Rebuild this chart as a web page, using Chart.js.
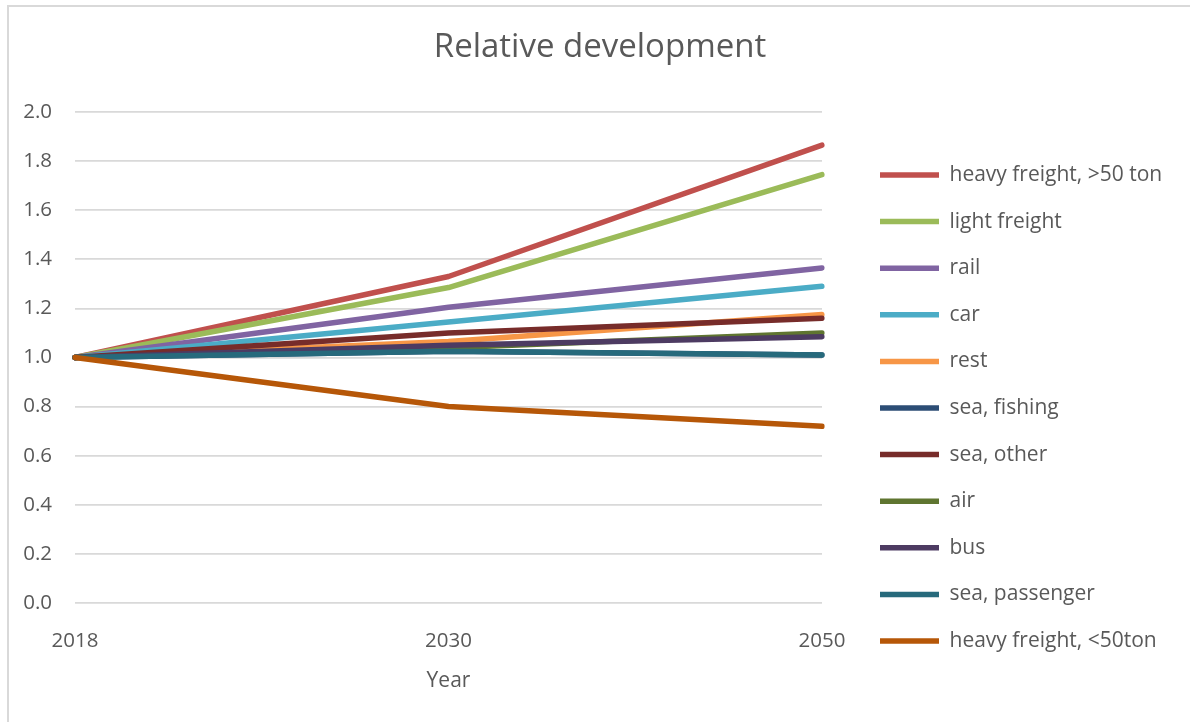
<!DOCTYPE html>
<html>
<head>
<meta charset="utf-8">
<script src="https://cdn.jsdelivr.net/npm/chart.js@4/dist/chart.umd.min.js"></script>
<style>
  html, body { margin: 0; padding: 0; background: #fff; }
  #wrap { position: relative; width: 1190px; height: 722px; overflow: hidden; }
  #frame { position: absolute; left: 7px; top: 5px; width: 1300px; height: 800px;
           border-left: 2px solid #d9d9d9; border-top: 2px solid #d9d9d9; box-sizing: border-box; }
  canvas { position: absolute; left: 0; top: 0; }
</style>
</head>
<body>
<div id="wrap">
  <div id="frame"></div>
  <canvas id="dev-chart" width="1190" height="722"></canvas>
</div>
<script>
var years = ['2018', '2030', '2050'];

var heavyOver50 = [1.00, 1.33, 1.865];
var lightFreight = [1.00, 1.285, 1.745];
var rail = [1.00, 1.205, 1.365];
var car = [1.00, 1.145, 1.29];
var rest = [1.00, 1.065, 1.175];
var seaFishing = [1.00, 1.025, 1.01];
var seaOther = [1.00, 1.10, 1.16];
var air = [1.00, 1.04, 1.10];
var bus = [1.00, 1.05, 1.085];
var seaPassenger = [1.00, 1.025, 1.01];
var heavyUnder50 = [1.00, 0.80, 0.72];

var series = [
    { label: 'heavy freight, >50 ton', data: heavyOver50, color: '#C0504D' },
    { label: 'light freight', data: lightFreight, color: '#9BBB59' },
    { label: 'rail', data: rail, color: '#8064A2' },
    { label: 'car', data: car, color: '#4BACC6' },
    { label: 'rest', data: rest, color: '#F79646' },
    { label: 'sea, fishing', data: seaFishing, color: '#2C4D75' },
    { label: 'sea, other', data: seaOther, color: '#772C2A' },
    { label: 'air', data: air, color: '#5F7530' },
    { label: 'bus', data: bus, color: '#4D3B62' },
    { label: 'sea, passenger', data: seaPassenger, color: '#276A7C' },
    { label: 'heavy freight, <50ton', data: heavyUnder50, color: '#B65708' }
];

var textColor = '#595959';
var fontFamily = '"Open Sans", "Liberation Sans", sans-serif';

// legend box spans from the plot's right edge to the canvas padding,
// entries are indented so there is an empty strip next to the plot
var legendWidth = 358;
var legendIndent = 32.4;

var legendStrip = {
    id: 'legendStrip',
    beforeLayout: function( chart ) {
        var lg = chart.legend;
        if ( !lg || lg._stripPatched ) {
            return;
        }
        lg._stripPatched = true;
        var fit = lg.fit;
        var draw = lg.draw;
        lg.fit = function() {
            fit.call( this );
            this.width = legendWidth;
        };
        lg.draw = function() {
            var left = this.left;
            this.left += legendIndent;
            draw.call( this );
            this.left = left;
        };
    }
};

// later series are painted over earlier ones
var datasets = series.map(function( s, i ) {
    return {
        label: s.label,
        data: s.data,
        borderColor: s.color,
        backgroundColor: s.color,
        borderWidth: 5.5,
        borderCapStyle: 'round',
        borderJoinStyle: 'round',
        pointRadius: 0,
        pointHoverRadius: 0,
        tension: 0,
        fill: false,
        order: series.length - i
    };
});

var ctx = document.getElementById( 'dev-chart' ).getContext( '2d' );
new Chart( ctx, {
    type: 'line',
    data: { labels: years, datasets: datasets },
    plugins: [ legendStrip ],
    options: {
        responsive: false,
        animation: false,
        layout: { padding: { left: 20, right: 10, top: 0, bottom: 28.4 } },
        plugins: {
            title: {
                display: true,
                text: 'Relative development',
                color: textColor,
                font: { family: fontFamily, size: 33, weight: 'normal' },
                padding: { top: 28.2, bottom: 44.2 }
            },
            legend: {
                position: 'right',
                align: 'start',
                // empty title only pushes the entries down
                title: { display: true, text: '', font: { size: 10 }, padding: { top: 126.9, bottom: 0 } },
                labels: {
                    usePointStyle: true,
                    pointStyle: 'line',
                    pointStyleWidth: 59,
                    padding: 25.6,
                    color: textColor,
                    font: { family: fontFamily, size: 21 },
                    sort: function( a, b ) { return a.datasetIndex - b.datasetIndex; }
                }
            },
            tooltip: { enabled: false }
        },
        scales: {
            x: {
                offset: false,
                grid: { display: false },
                border: { display: false },
                ticks: { color: textColor, font: { family: fontFamily, size: 20.5 }, padding: 17.7, maxRotation: 0 },
                title: {
                    display: true,
                    text: 'Year',
                    color: textColor,
                    font: { family: fontFamily, size: 21 },
                    padding: { top: 4, bottom: 0 }
                },
                afterFit: function( scale ) { scale.height = 90.6; }
            },
            y: {
                min: 0,
                max: 2,
                grid: { color: '#d9d9d9', lineWidth: 1.75, drawTicks: false },
                border: { display: false },
                ticks: {
                    stepSize: 0.2,
                    color: textColor,
                    font: { family: fontFamily, size: 20.5 },
                    padding: 23,
                    callback: function( v ) { return Number( v ).toFixed( 1 ); }
                },
                afterFit: function( scale ) { scale.width = 55; }
            }
        }
    }
} );
</script>
</body>
</html>
